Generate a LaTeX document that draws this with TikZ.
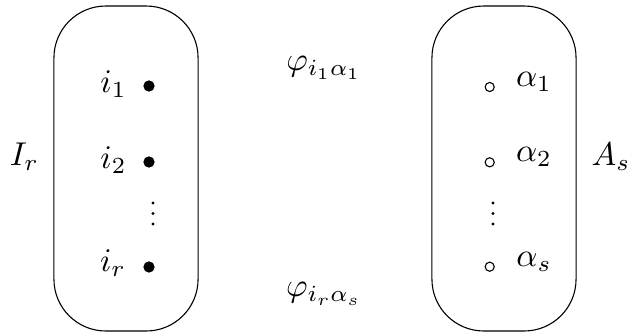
\documentclass[tikz,border=0pt]{standalone}
\begin{document}
\begin{tikzpicture}[x=0.3185pt, y=-0.3185pt,
  setbox/.style={draw, line width=0.35pt, rounded corners=16.5pt,
    minimum width=45.9pt, minimum height=103.5pt, inner sep=0pt},
  fulldot/.style={circle, fill, inner sep=0pt, minimum size=3.6pt},
  opendot/.style={circle, draw, line width=0.35pt, inner sep=0pt, minimum size=2.9pt},
  tinydot/.style={circle, fill, inner sep=0pt, minimum size=1.0pt},
  lbl/.style={inner sep=0pt, scale=1.05}]
\useasboundingbox (0,0) rectangle (628,335);

% the two sets
\node[setbox] (Ibox) at (126,168.5) {};
\node[setbox] (Abox) at (504,168.5) {};
\node[lbl] (Ir) at (24.5,157) {$I_r$};
\node[lbl] (As) at (611,157) {$A_s$};

% elements of I_r
\node[fulldot] (d1) at (149,86) {};
\node[fulldot] (d2) at (149,162) {};
\node[fulldot] (dr) at (149,267) {};
\node[lbl] (i1) at (113.5,84) {$i_1$};
\node[lbl] (i2) at (113.5,160) {$i_2$};
\node[lbl] (ir) at (113,263) {$i_r$};
\node[tinydot] (lv1) at (153,203) {};
\node[tinydot] (lv2) at (153,213.5) {};
\node[tinydot] (lv3) at (153,224) {};

% elements of A_s
\node[opendot] (c1) at (489.7,87) {};
\node[opendot] (c2) at (489.7,162.3) {};
\node[opendot] (cs) at (489.7,266.7) {};
\node[lbl] (a1) at (534,82) {$\alpha_1$};
\node[lbl] (a2) at (534,157) {$\alpha_2$};
\node[lbl] (as) at (534,262) {$\alpha_s$};
\node[tinydot] (rv1) at (493,203) {};
\node[tinydot] (rv2) at (493,213.5) {};
\node[tinydot] (rv3) at (493,224) {};

% maps between the sets
\node[lbl] (phi1) at (324,68) {$\varphi_{i_1\alpha_1}$};
\node[lbl] (phir) at (324,294) {$\varphi_{i_r\alpha_s}$};
\end{tikzpicture}
\end{document}
